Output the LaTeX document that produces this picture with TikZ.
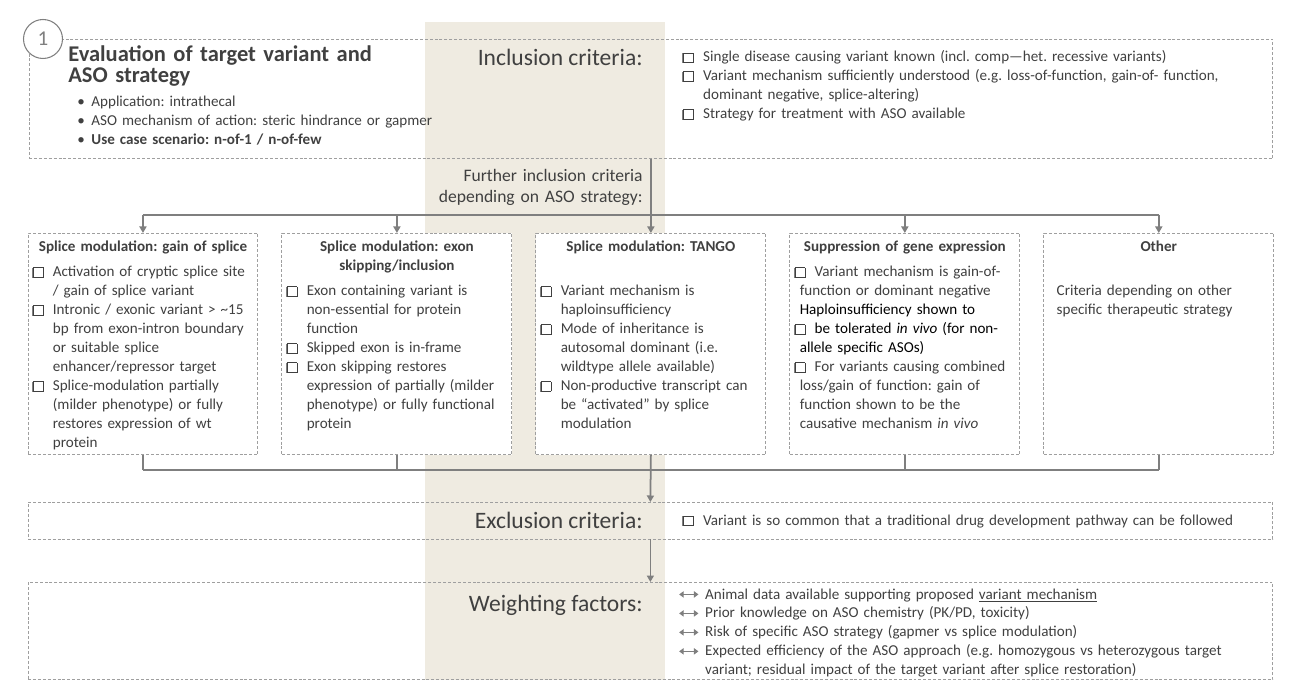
\documentclass[tikz,border=0pt]{standalone}
\usepackage{fontspec}
\setmainfont{Carlito}
\usepackage{tikz}
\usetikzlibrary{arrows.meta, positioning}
\frenchspacing

\definecolor{bandbeige}{HTML}{EFEBE1}
\definecolor{linegray}{HTML}{7F7F7F}
\definecolor{txtgray}{HTML}{404040}

% small checkbox with a drop shadow
\newcommand{\chk}{\raisebox{-0.2pt}{\makebox[0pt][l]{\hspace{-0.6pt}\raisebox{-0.6pt}{\textcolor{black!50}{\rule{6pt}{6pt}}}}\setlength{\fboxsep}{0pt}\setlength{\fboxrule}{0.4pt}\fcolorbox{black!75}{white}{\rule{0pt}{5.2pt}\rule{5.2pt}{0pt}}}}
\newcommand{\dblarr}{\tikz[baseline=-2.6pt]\draw[{Triangle[length=2.6pt,width=3.6pt]}-{Triangle[length=2.6pt,width=3.6pt]}, draw=linegray, fill=linegray, line width=0.9pt] (0pt,0pt) -- (11pt,0pt);}
\newcommand{\chkitem}[2][11.3pt]{\noindent\hangindent=#1\hangafter=1\makebox[11.3pt][l]{\chk}#2\par}
\newcommand{\wfitem}[1]{\noindent\hangindent=15.3pt\hangafter=1\makebox[15.3pt][l]{\dblarr}#1\par}
\newcommand{\bulitem}[1]{\noindent\makebox[8pt][l]{\textbullet}#1\par}

\begin{document}
\begin{tikzpicture}[x=0.02cm, y=-0.02cm,
  dashbox/.style={draw=gray!75, dash pattern=on 1.7pt off 1.1pt, line width=0.55pt, outer sep=0pt, inner sep=0pt},
  midbox/.style={dashbox, fill=white, minimum width=4.6cm, minimum height=4.44cm},
  boxtext/.style={font=\fontsize{8.6}{10.8}\selectfont, text=txtgray, text width=4.4cm, inner sep=0pt, align=left, anchor=base},
  listtext/.style={font=\fontsize{8.6}{10.8}\selectfont, text=txtgray, text width=12cm, inner sep=0pt, align=left, anchor=base west},
  biglabel/.style={font=\fontsize{13.4}{15}\selectfont, text=txtgray, inner sep=0pt, anchor=base east},
  arrow/.style={-{Triangle[length=1.3mm, width=1.4mm]}, draw=linegray, line width=1pt},
  busline/.style={draw=linegray, line width=1pt},
  node distance=0.48cm
]
  \useasboundingbox (0,0) rectangle (1298,695);
  \fill[bandbeige] (425,22) rectangle (665,680);

  % evaluation box
  \node[dashbox, minimum width=24.88cm, minimum height=2.4cm, anchor=north west] (top) at (29,39) {};
  \node[circle, draw=linegray, fill=white, minimum size=0.78cm, inner sep=0pt, line width=0.6pt,
        text=linegray, font=\fontsize{12}{12}\selectfont] (num) at (43,39) {1};
  \node[text width=9cm, align=left, inner sep=0pt, anchor=base west, text=txtgray,
        font=\fontsize{12.8}{11.9}\selectfont\bfseries] (title) at (68,62)
       {Evaluation of target variant and\\ASO strategy};
  \node[listtext] (bul) at (77,107) {%
    \bulitem{Application: intrathecal}
    \bulitem{ASO mechanism of action: steric hindrance or gapmer}
    \bulitem{\textbf{Use case scenario: n-of-1 / n-of-few}}};
  \node[biglabel] (incl) at (643,66) {Inclusion criteria:};
  \node[listtext] (incllist) at (683,62) {%
    \chkitem{Single disease causing variant known (incl. comp---het. recessive variants)}
    \chkitem{Variant mechanism sufficiently understood (e.g. loss-of-function, gain-of- function,\newline dominant negative, splice-altering)}
    \chkitem{Strategy for treatment with ASO available}};
  \node[text width=5cm, align=right, inner sep=0pt, anchor=base east, text=txtgray,
        font=\fontsize{10}{11.9}\selectfont] (further) at (643,182)
       {Further inclusion criteria\\depending on ASO strategy:};

  % strategy boxes
  \node[midbox, anchor=north west] (gain) at (28,233) {};
  \node[midbox, right=of gain] (skip) {};
  \node[midbox, right=of skip] (tango) {};
  \node[midbox, right=of tango] (supp) {};
  \node[midbox, right=of supp] (other) {};

  \node[boxtext] (gaintxt) at ([yshift=-0.38cm]gain.north) {%
    {\centering\bfseries Splice modulation: gain of splice\par}\vspace{3.4pt}
    \chkitem{Activation of cryptic splice site\newline / gain of splice variant}
    \chkitem{Intronic / exonic variant > \textasciitilde15\newline bp from exon-intron boundary\newline or suitable splice\newline enhancer/repressor target}
    \chkitem{Splice-modulation partially\newline (milder phenotype) or fully\newline restores expression of wt\newline protein}};
  \node[boxtext] (skiptxt) at ([yshift=-0.38cm]skip.north) {%
    {\centering\bfseries Splice modulation: exon\\skipping/inclusion\par}\vspace{3.4pt}
    \chkitem{Exon containing variant is\newline non-essential for protein\newline function}
    \chkitem{Skipped exon is in-frame}
    \chkitem{Exon skipping restores\newline expression of partially (milder\newline phenotype) or fully functional\newline protein}};
  \node[boxtext] (tangotxt) at ([yshift=-0.38cm]tango.north) {%
    {\centering\bfseries Splice modulation: TANGO\par}\vspace{14.2pt}
    \chkitem{Variant mechanism is\newline haploinsufficiency}
    \chkitem{Mode of inheritance is\newline autosomal dominant (i.e.\newline wildtype allele available)}
    \chkitem{Non-productive transcript can\newline be ``activated'' by splice\newline modulation}};
  \node[boxtext] (supptxt) at ([yshift=-0.38cm]supp.north) {%
    {\centering\bfseries Suppression of gene expression\par}\vspace{3.4pt}
    \chkitem[2.8pt]{Variant mechanism is gain-of-\newline function or dominant negative\newline \textcolor{black}{Haploinsufficiency shown to}}
    \chkitem[2.8pt]{\textcolor{black}{be tolerated \emph{in vivo} (for non-\newline allele specific ASOs)}}
    \chkitem[2.8pt]{For variants causing combined\newline loss/gain of function: gain of\newline function shown to be the\newline causative mechanism \emph{in vivo}}};
  \node[boxtext] (othertxt) at ([yshift=-0.38cm]other.north) {%
    {\centering\bfseries Other\par}\vspace{14.2pt}
    {\noindent\hangindent=4.5pt\hangafter=0 Criteria depending on other\newline specific therapeutic strategy\par}};

  % exclusion and weighting
  \node[dashbox, minimum width=24.9cm, minimum height=0.74cm, anchor=north west] (excl) at (28,502) {};
  \node[biglabel] (excllabel) at (643,529) {Exclusion criteria:};
  \node[listtext] (excllist) at (683,525) {%
    \chkitem{Variant is so common that a traditional drug development pathway can be followed}};
  \node[dashbox, minimum width=24.9cm, minimum height=1.96cm, anchor=north west] (weight) at (28,582) {};
  \node[biglabel] (weightlabel) at (643,611) {Weighting factors:};
  \node[listtext] (weightlist) at (678,599) {%
    \wfitem{Animal data available supporting proposed \underline{variant mechanism}}
    \wfitem{Prior knowledge on ASO chemistry (PK/PD, toxicity)}
    \wfitem{Risk of specific ASO strategy (gapmer vs splice modulation)}
    \wfitem{Expected efficiency of the ASO approach (e.g. homozygous vs heterozygous target\newline variant; residual impact of the target variant after splice restoration)}};

  % connectors
  \coordinate (busin) at (650,215);
  \coordinate (busout) at (650,470);
  \draw[arrow] (top.south) -- (tango.north);
  \draw[busline] (gain.north |- busin) -- (other.north |- busin);
  \foreach \b in {gain, skip, supp, other}
    \draw[arrow] (\b.north |- busin) -- (\b.north);
  \foreach \b in {gain, skip, supp, other}
    \draw[busline] (\b.south) -- (\b.south |- busout);
  \draw[busline] (gain.south |- busout) -- (other.south |- busout);
  \draw[arrow] (tango.south) -- (excl.north);
  \draw[arrow] (excl.south) -- (weight.north);
\end{tikzpicture}
\end{document}
